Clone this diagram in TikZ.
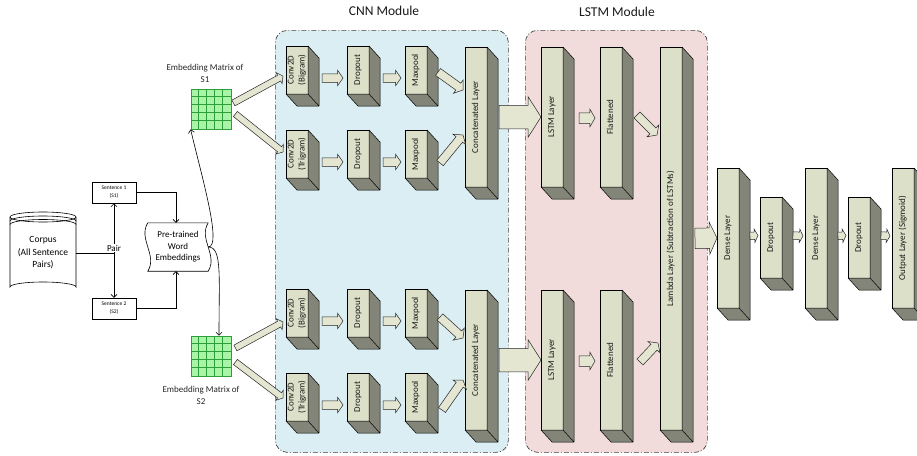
\documentclass[tikz,border=0pt]{standalone}
\usepackage{fontspec}
\setmainfont{Carlito}
\usepackage{graphicx}
\usetikzlibrary{positioning,calc,shapes.arrows,arrows.meta}
\definecolor{CNNBlue}{HTML}{DAEEF3}
\definecolor{LSTMPink}{HTML}{F2DCDB}
\definecolor{LayerFront}{HTML}{DDE0C8}
\definecolor{LayerSide}{HTML}{828577}
\definecolor{ArrowFill}{HTML}{E4E6D2}
\definecolor{MatGreen}{HTML}{A8F5A8}
\definecolor{MatLine}{HTML}{2E9E3A}

% nhan doc trong khoi
\newcommand{\vlab}[1]{\rotatebox{90}{\begin{tabular}{@{}c@{}}#1\end{tabular}}}
% mui ten khoi giua hai diem
\newcommand{\blockarrow}[3][]{%
  \path let \p2=(#2), \p3=(#3),
    \n1={atan2(\y3-\y2,\x3-\x2)}, \n2={veclen(\x3-\x2,\y3-\y2)} in
    node[barrow, #1, minimum height=\n2, rotate=\n1, anchor=tail] at (\p2) {};}

\begin{document}
\begin{tikzpicture}[x=1pt, y=-1pt,
    >={Straight Barb[length=3pt, width=6pt]},
    % Style cho cac khoi
    layer/.style={draw=black, fill=LayerFront, line width=0.5pt, inner sep=0pt, outer sep=0pt, anchor=north west, minimum width=22, font=\fontsize{9}{11}\selectfont, text=black!90},
    sideface/.style={draw=black, fill=LayerSide, line width=0.5pt, line join=round},
    module/.style={draw=black!75, line width=0.7pt, rounded corners=12pt, dash pattern=on 5pt off 2pt on 1pt off 2pt, anchor=north west, inner sep=0pt},
    modtitle/.style={font=\fontsize{13.5}{15}\selectfont, text=black!90},
    embmat/.style={draw=MatLine, fill=MatGreen, minimum size=40, inner sep=0pt, line width=0.8pt},
    matline/.style={draw=MatLine, line width=0.6pt},
    emblabel/.style={font=\fontsize{9}{12}\selectfont, align=center, text=black!85},
    sentbox/.style={draw=black, line width=0.5pt, minimum width=44, minimum height=21, inner sep=0pt, align=center, font=\fontsize{5.5}{8}\selectfont},
    conn/.style={draw=black, line width=0.6pt},
    % Style mui ten khoi
    barrow/.style={single arrow, draw=black!85, fill=ArrowFill, line width=0.5pt, inner xsep=0pt, outer sep=0pt, single arrow tip angle=110, single arrow head indent=0pt},
    arrS/.style={inner ysep=4pt, single arrow head extend=3.5pt},
    arrS2/.style={inner ysep=5pt, single arrow head extend=3.5pt, single arrow tip angle=120},
    arrT/.style={inner ysep=3pt, single arrow head extend=3pt},
    arrD/.style={inner ysep=4pt, single arrow head extend=4pt},
    arrL/.style={inner ysep=11.5pt, single arrow head extend=8.5pt, single arrow tip angle=115},
    arrM/.style={inner ysep=10pt, single arrow head extend=6pt, single arrow tip angle=130},
    arrXS/.style={inner ysep=3.5pt, single arrow head extend=3pt, single arrow tip angle=125}
  ]
  \useasboundingbox (0,0) rectangle (917,455);

  % --- MODULES ---
  \node[module, fill=CNNBlue, minimum width=233, minimum height=422] (cnn) at (275,30) {};
  \node[module, fill=LSTMPink, minimum width=182, minimum height=422] (lstm) at (525,30) {};
  \node[modtitle] (cnnt) at (384,11) {CNN Module};
  \node[modtitle] (lstmt) at (617,12) {LSTM Module};

  % --- INPUT ---
  % Corpus (hinh tru)
  \draw[conn, fill=white] (10,217) -- (10,287) arc[start angle=180, end angle=360, x radius=33, y radius=5] -- (76,217);
  \draw[conn] (43,217) ellipse[x radius=33, y radius=5];
  \draw[conn] (10,221) arc[start angle=180, end angle=360, x radius=33, y radius=5];
  \draw[conn] (10,224.5) arc[start angle=180, end angle=360, x radius=33, y radius=5];
  \node[font=\fontsize{9.5}{12.5}\selectfont, align=center, minimum width=66, minimum height=83, inner sep=0pt] (corpus) at (43,253) {Corpus\\(All Sentence\\Pairs)};

  \node[sentbox] (s1) at (114,192.5) {Sentence 1\\(S1)};
  \node[sentbox] (s2) at (114,308.5) {Sentence 2\\(S2)};

  \node[font=\fontsize{9}{11.5}\selectfont, align=center, minimum width=60, minimum height=48, inner sep=0pt] (pre) at (178,247) {Pre-trained\\Word\\Embeddings};
  \draw[conn] (pre.north west) .. controls +(-10,16) and +(10,-16) .. (pre.south west) -- (pre.south east) .. controls +(10,-16) and +(-10,16) .. (pre.north east) -- cycle;

  \draw[conn] (corpus.east) -- (corpus.east -| s1.south);
  \draw[conn, <->] (s1) -- (s2);
  \node[fill=white, inner sep=1pt, font=\fontsize{9}{10}\selectfont] (pair) at (114,248) {Pair};
  \draw[conn, ->] (s1.east) -| ($(pre.north)+(-2,0)$);
  \draw[conn, ->] (s2.east) -| ($(pre.south)+(-2,0)$);

  % --- EMBEDDING MATRICES ---
  \node[embmat] (embA) at (211,109) {};
  \node[embmat] (embB) at (211,356) {};
  \foreach \m in {embA,embB}
    \foreach \i in {1,...,4} {
      \draw[matline] ($(\m.north west)+(8*\i,0)$) -- ($(\m.south west)+(8*\i,0)$);
      \draw[matline] ($(\m.north west)+(0,8*\i)$) -- ($(\m.north east)+(0,8*\i)$);
    }
  \node[emblabel] (embAl) at (205,73) {Embedding Matrix of\\S1};
  \node[emblabel] (embBl) at (201,395) {Embedding Matrix of\\S2};

  \draw[conn, ->] (pre.east) .. controls +(14,0) and +(12,50) .. (embA.south west);
  \draw[conn, ->] (pre.east) .. controls +(14,0) and +(0,-60) .. ($(embB.north)+(8,0)$);

  % --- CNN MODULE ---
  \node[layer, minimum height=48] (cA1) at (286,46) {\vlab{Conv2D\\(Bigram)}};
  \node[layer, minimum height=48] (dA1) at (347,46) {\vlab{Dropout}};
  \node[layer, minimum height=48] (mA1) at (405,46) {\vlab{Maxpool}};
  \node[layer, minimum height=48] (cA2) at (286,130) {\vlab{Conv2D\\(Trigram)}};
  \node[layer, minimum height=48] (dA2) at (347,130) {\vlab{Dropout}};
  \node[layer, minimum height=48] (mA2) at (405,130) {\vlab{Maxpool}};
  \node[layer, minimum height=140] (catA) at (465,47) {\vlab{Concatenated Layer}};

  \node[layer, minimum height=48] (cB1) at (286,289) {\vlab{Conv2D\\(Bigram)}};
  \node[layer, minimum height=48] (dB1) at (347,289) {\vlab{Dropout}};
  \node[layer, minimum height=48] (mB1) at (405,289) {\vlab{Maxpool}};
  \node[layer, minimum height=48] (cB2) at (286,373) {\vlab{Conv2D\\(Trigram)}};
  \node[layer, minimum height=48] (dB2) at (347,373) {\vlab{Dropout}};
  \node[layer, minimum height=48] (mB2) at (405,373) {\vlab{Maxpool}};
  \node[layer, minimum height=140] (catB) at (465,290) {\vlab{Concatenated Layer}};

  % --- LSTM MODULE ---
  \node[layer, minimum height=140] (lstmA) at (541,47) {\vlab{LSTM Layer}};
  \node[layer, minimum height=140] (flatA) at (600,47) {\vlab{Flattened}};
  \node[layer, minimum height=140] (lstmB) at (541,290) {\vlab{LSTM Layer}};
  \node[layer, minimum height=140] (flatB) at (600,290) {\vlab{Flattened}};
  \node[layer, minimum height=383] (lambda) at (660,47) {\vlab{Lambda Layer (Subtraction of LSTMs)}};

  % --- DENSE ---
  \node[layer, minimum height=140] (dense1) at (717,168) {\vlab{Dense Layer}};
  \node[layer, minimum height=81] (drop1) at (760,197) {\vlab{Dropout}};
  \node[layer, minimum height=140] (dense2) at (805,168) {\vlab{Dense Layer}};
  \node[layer, minimum height=81] (drop2) at (848,197) {\vlab{Dropout}};
  \node[layer, minimum height=140] (outl) at (892,168) {\vlab{Output Layer (Sigmoid)}};

  % mat ben va mat duoi cua khoi
  \foreach \n in {cA1,dA1,mA1,cA2,dA2,mA2,catA,cB1,dB1,mB1,cB2,dB2,mB2,catB,lstmA,flatA,lstmB,flatB,lambda,dense1,drop1,dense2,drop2,outl}
    \draw[sideface] (\n.north east) -- ++(11,12) -- ($(\n.south east)+(11,12)$) -- ($(\n.south west)+(11,12)$) -- (\n.south west) -- (\n.south east) -- cycle
      (\n.south east) -- ++(11,12);

  % --- MUI TEN KHOI ---
  \blockarrow[arrT]{$(embA.east)+(2,-6)$}{$(cA1.west)+(-3,6)$}
  \blockarrow[arrT]{$(embA.east)+(4,5)$}{$(cA2.west)+(-3,-2)$}
  \blockarrow[arrT]{$(embB.east)+(4,-8)$}{$(cB1.west)+(-3,9)$}
  \blockarrow[arrT]{$(embB.east)+(4,6)$}{$(cB2.west)+(-3,1)$}

  \foreach \a/\b in {cA1/dA1,dA1/mA1,cA2/dA2,dA2/mA2,cB1/dB1,dB1/mB1,cB2/dB2,dB2/mB2}{
    \blockarrow[arrS]{$(\a.east)+(14,8)$}{$(\b.west)+(-4,8)$}
  }

  \blockarrow[arrD]{$(mA1.east)+(11,2)$}{$(catA.west)+(-2,-27)$}
  \blockarrow[arrD]{$(mA2.east)+(13,9)$}{$(catA.west)+(-2,18)$}
  \blockarrow[arrD]{$(mB1.east)+(13,4)$}{$(catB.west)+(-2,-22)$}
  \blockarrow[arrD]{$(mB2.east)+(15,13)$}{$(catB.west)+(-2,20)$}

  \blockarrow[arrL]{$(catA.east)+(12,0)$}{lstmA.west}
  \blockarrow[arrL]{$(catB.east)+(12,0)$}{lstmB.west}

  \blockarrow[arrS2]{$(lstmA.east)+(16,1)$}{$(flatA.west)+(-5,1)$}
  \blockarrow[arrS2]{$(lstmB.east)+(16,1)$}{$(flatB.west)+(-5,1)$}
  \blockarrow[arrD]{$(flatA.east)+(15,-2)$}{$(lambda.north west)+(-3,88)$}
  \blockarrow[arrD]{$(flatB.east)+(18,2)$}{$(lambda.north west)+(-2,296)$}

  \blockarrow[arrM]{$(lambda.east)+(13,0)$}{dense1.west}
  \foreach \a/\b in {dense1/drop1,drop1/dense2,dense2/drop2,drop2/outl}{
    \blockarrow[arrXS]{$(\a.east)+(11,-2)$}{$(\b.west)+(-2,-2)$}
  }
\end{tikzpicture}
\end{document}
